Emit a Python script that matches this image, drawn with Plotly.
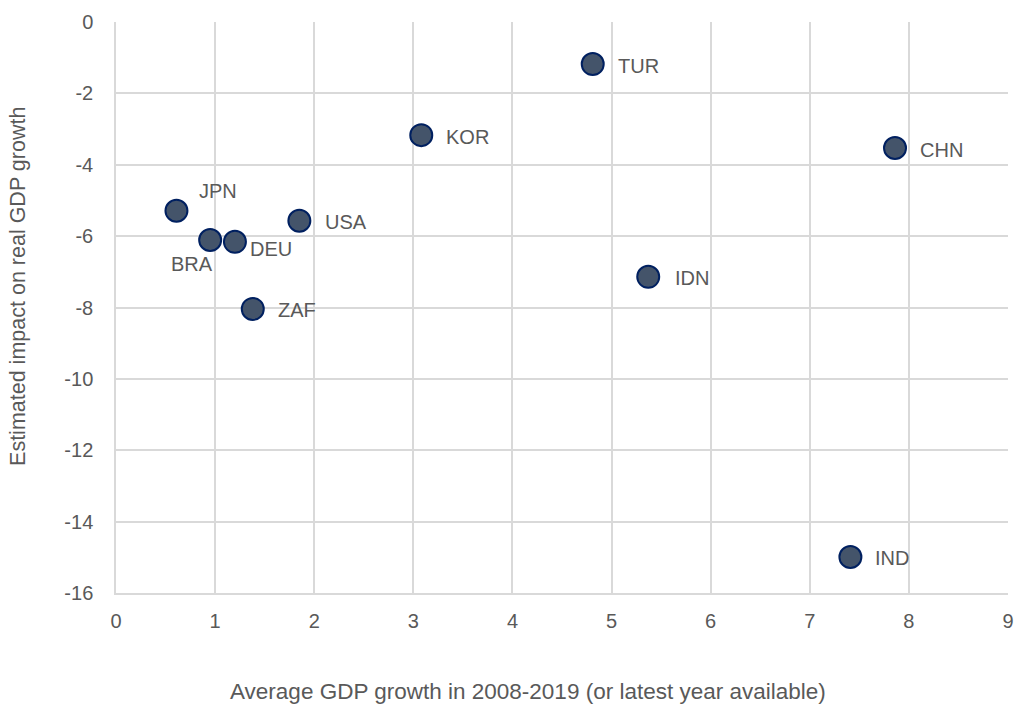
import plotly.graph_objects as go

countries = ["TUR", "KOR", "CHN", "JPN", "BRA", "DEU", "USA", "ZAF", "IDN", "IND"]
gdp_growth = [4.81, 3.08, 7.86, 0.61, 0.95, 1.20, 1.85, 1.38, 5.37, 7.41]
impact = [-1.18, -3.17, -3.53, -5.29, -6.11, -6.16, -5.57, -8.04, -7.14, -14.99]

x_ticks = list(range(0, 10))
x_ticktext = [str(v) for v in x_ticks]
y_ticks = list(range(-16, 1, 2))
y_ticktext = ["-16", "-14", "-12", "-10", "-8", "-6", "-4", "-2", "0"]

x_title = "Average GDP growth in 2008-2019 (or latest year available)"
y_title = "Estimated impact on real GDP growth"

# label placement (style): xshift, yshift, xanchor
label_pos = {
    "TUR": (23, -2, "left"),
    "KOR": (23, -2, "left"),
    "CHN": (23, -2, "left"),
    "JPN": (21, 20, "left"),
    "BRA": (5, -24, "right"),
    "DEU": (13, -7, "left"),
    "USA": (24, -1, "left"),
    "ZAF": (23, -1, "left"),
    "IDN": (25, -1, "left"),
    "IND": (23, -1, "left"),
}

FONT = "Liberation Sans, Arial, sans-serif"
TXT = "#595959"

fig = go.Figure()
fig.add_trace(go.Scatter(
    x=gdp_growth, y=impact, mode="markers",
    marker=dict(size=22, color="#44546A", line=dict(color="#002060", width=2)),
    hovertext=countries, showlegend=False,
))

for c, xv, yv in zip(countries, gdp_growth, impact):
    xs, ys, xa = label_pos[c]
    fig.add_annotation(x=xv, y=yv, text=c, showarrow=False, xanchor=xa, yanchor="middle",
                       xshift=xs, yshift=ys, font=dict(size=20, color=TXT, family=FONT))

# axis titles (placed as annotations for exact positioning)
fig.add_annotation(text=x_title, xref="paper", yref="paper", x=0.462, y=0,
                   xanchor="center", yanchor="middle", yshift=-98, showarrow=False,
                   font=dict(size=22.5, color=TXT, family=FONT))
fig.add_annotation(text=y_title, xref="paper", yref="paper", x=0, y=0.536,
                   xanchor="center", yanchor="middle", xshift=-98, textangle=-90,
                   showarrow=False, font=dict(size=21.5, color=TXT, family=FONT))

fig.update_layout(
    width=1016, height=704,
    margin=dict(l=116, r=8, t=22, b=111),
    plot_bgcolor="white", paper_bgcolor="white",
    font=dict(family=FONT, color=TXT, size=20),
    xaxis=dict(range=[0, 9], tickvals=x_ticks, ticktext=x_ticktext, automargin=False,
               showgrid=True, gridcolor="#d9d9d9", gridwidth=1.5,
               zeroline=False, showline=True, linecolor="#d9d9d9", linewidth=1.5,
               ticks="outside", ticklen=9, tickcolor="rgba(0,0,0,0)",
               tickfont=dict(size=20, color=TXT)),
    yaxis=dict(range=[-16, 0], tickvals=y_ticks, ticktext=y_ticktext, automargin=False,
               showgrid=True, gridcolor="#d9d9d9", gridwidth=1.5,
               zeroline=False, showline=True, linecolor="#d9d9d9", linewidth=1.5,
               ticks="outside", ticklen=17, tickcolor="rgba(0,0,0,0)",
               tickfont=dict(size=20, color=TXT)),
)

fig.write_html("out.html", config={"displayModeBar": False},
               post_script="document.body.style.margin='0';document.body.style.overflow='hidden';")
